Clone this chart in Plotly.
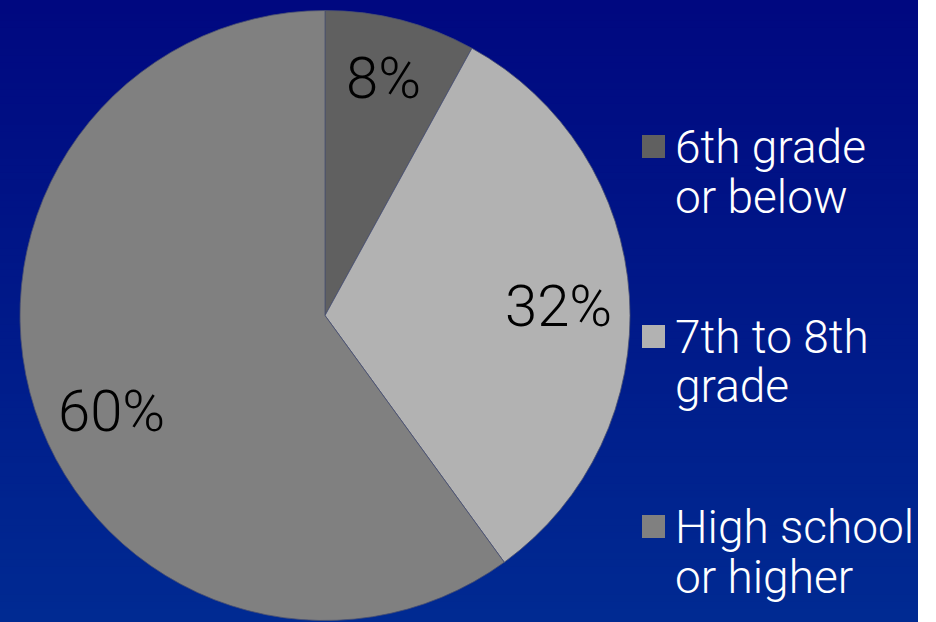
import math
import plotly.graph_objects as go

# Education level shares
categories = ["6th grade or below", "7th to 8th grade", "High school or higher"]
legend_lines = [["6th grade", "or below"], ["7th to 8th", "grade"], ["High school", "or higher"]]
shares = [8, 32, 60]
slice_colors = ["#606060", "#b2b2b2", "#808080"]

W, H = 936, 622
CX, CY, R = 325, 315.5, 305      # pie centre / radius in px
PANEL_RIGHT = 918               # blue panel ends here
FONT = "Roboto"


def px_x(x):
    return x / W


def px_y(y):
    return 1 - y / H


fig = go.Figure()
fig.add_trace(go.Pie(
    labels=categories,
    values=shares,
    sort=False,
    direction="clockwise",
    rotation=0,
    marker=dict(colors=slice_colors, line=dict(color="#4a5070", width=0.8)),
    textinfo="none",
    hoverinfo="label+percent",
    showlegend=False,
    domain=dict(x=[px_x(CX - R), px_x(CX + R)], y=[px_y(CY + R), px_y(CY - R)]),
))

# vertical blue gradient panel: each band runs to the bottom edge and
# is covered by the next one, so no seams appear between bands
shapes = []
n_bands = 90
top_rgb = (0, 8, 128)
bot_rgb = (0, 42, 146)
for i in range(n_bands):
    t = i / (n_bands - 1)
    c = tuple(round(a + (b - a) * t) for a, b in zip(top_rgb, bot_rgb))
    y0 = i * H / n_bands
    shapes.append(dict(type="rect", xref="paper", yref="paper", layer="below",
                       x0=0, x1=px_x(PANEL_RIGHT), y0=0, y1=px_y(y0),
                       line=dict(width=0), fillcolor=f"rgb{c}"))

annotations = []

# percentage labels placed along each slice's bisector
total = sum(shares)
label_frac = [0.795, 0.765, 0.77]
angle_shift = [-0.5, 1.8, -6.4]
start = 0.0
for i, v in enumerate(shares):
    span = 360 * v / total
    mid = math.radians(start + span / 2 + angle_shift[i])
    rr = R * label_frac[i]
    x = CX + rr * math.sin(mid)
    y = CY - rr * math.cos(mid)
    annotations.append(dict(x=px_x(x), y=px_y(y - 2), xref="paper", yref="paper",
                            text=f"{round(100 * v / total)}%", showarrow=False,
                            xanchor="center", yanchor="middle",
                            font=dict(family=FONT, size=58, color="black", weight=300)))
    start += span

# legend: grey squares with two-line white labels
item_top = 146.5
item_gap = 190
line_gap = 50
for i, lines in enumerate(legend_lines):
    yc = item_top + i * item_gap
    shapes.append(dict(type="rect", xref="paper", yref="paper",
                       x0=px_x(642), x1=px_x(665), y0=px_y(yc + 11.5), y1=px_y(yc - 11.5),
                       line=dict(width=0), fillcolor=slice_colors[i]))
    for j, txt in enumerate(lines):
        annotations.append(dict(x=px_x(673), y=px_y(yc + j * line_gap), xref="paper", yref="paper",
                                text=txt, showarrow=False, xanchor="left", yanchor="middle",
                                font=dict(family=FONT, size=46, color="white", weight=300)))

fig.update_layout(
    width=W, height=H,
    margin=dict(l=0, r=0, t=0, b=0),
    paper_bgcolor="white",
    plot_bgcolor="white",
    shapes=shapes,
    annotations=annotations,
)

fig.write_html("out.html")
